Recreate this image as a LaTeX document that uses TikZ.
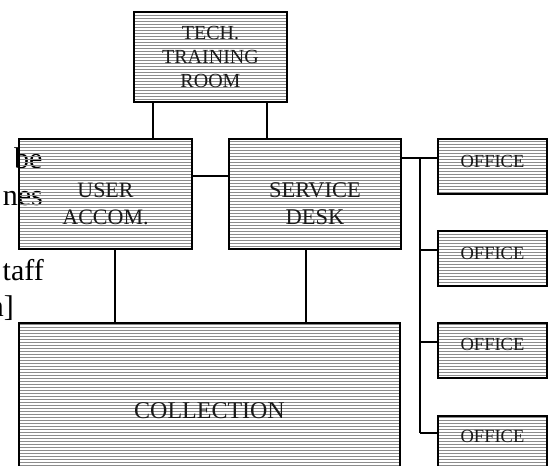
\documentclass[tikz,border=0pt]{standalone}
\usepackage{fontspec}
\setmainfont{Liberation Serif}
\usetikzlibrary{patterns}
\begin{document}
\begin{tikzpicture}[x=1pt,y=-1pt,
  room/.style={draw=black, line width=1.4pt, pattern=horizontal lines, pattern color=black!45, inner sep=0pt},
  lbl/.style={align=center, inner sep=0pt, text=black!90},
  conn/.style={line width=1.4pt, draw=black},
  frag/.style={inner sep=0pt, font=\fontsize{30}{36}\selectfont}
]
\useasboundingbox (0,0) rectangle (555,466);
\clip (0,0) rectangle (555,466);
% background text fragments
\node[frag, anchor=base west] (f1) at (14,168) {be};
\node[frag, anchor=base east] (f2) at (43,205) {nes};
\node[frag, anchor=base east] (f3) at (44,280) {taff};
\node[frag, anchor=base east] (f4) at (14,316) {n]};
% boxes
\node[room, minimum width=153pt, minimum height=90pt] (tech) at (210.5,57) {};
\node[room, minimum width=173pt, minimum height=110pt] (user) at (105.5,194) {};
\node[room, minimum width=172pt, minimum height=110pt] (desk) at (315,194) {};
\node[room, minimum width=381pt, minimum height=160pt] (coll) at (209.5,403) {};
\node[room, minimum width=109pt, minimum height=55pt] (o1) at (492.5,166.5) {};
\node[room, minimum width=109pt, minimum height=55pt] (o2) at (492.5,258.5) {};
\node[room, minimum width=109pt, minimum height=55pt] (o3) at (492.5,350.5) {};
\node[room, minimum width=109pt, minimum height=55pt] (o4) at (492.5,443.5) {};
% labels
\node[lbl, font=\fontsize{20}{24}\selectfont] (ttech) at (210.5,57) {TECH.\\TRAINING\\ROOM};
\node[lbl, font=\fontsize{22}{27}\selectfont] (tuser) at (105.5,204) {USER\\ACCOM.};
\node[lbl, font=\fontsize{22.5}{27}\selectfont] (tdesk) at (315,204) {SERVICE\\DESK};
\node[lbl, font=\fontsize{24}{28}\selectfont] (tcoll) at (209.5,411) {COLLECTION};
\node[lbl, font=\fontsize{18.5}{22}\selectfont] (to1) at (492.5,161) {OFFICE};
\node[lbl, font=\fontsize{18.5}{22}\selectfont] (to2) at (492.5,253) {OFFICE};
\node[lbl, font=\fontsize{18.5}{22}\selectfont] (to3) at (492.5,344) {OFFICE};
\node[lbl, font=\fontsize{18.5}{22}\selectfont] (to4) at (492.5,436) {OFFICE};
% connectors
\coordinate (bus) at (420,0);
\draw[conn] (153,0 |- tech.south) -- (153,0 |- user.north);
\draw[conn] (267,0 |- tech.south) -- (267,0 |- desk.north);
\draw[conn] (user.east |- 0,176) -- (desk.west |- 0,176);
\draw[conn] (115,0 |- user.south) -- (115,0 |- coll.north);
\draw[conn] (306,0 |- desk.south) -- (306,0 |- coll.north);
\draw[conn] (desk.east |- 0,158) -- (o1.west |- 0,158);
\draw[conn] (bus |- 0,158) -- (bus |- 0,433);
\draw[conn] (bus |- 0,250) -- (o2.west |- 0,250);
\draw[conn] (bus |- 0,342) -- (o3.west |- 0,342);
\draw[conn] (bus |- 0,433) -- (o4.west |- 0,433);
\end{tikzpicture}
\end{document}
